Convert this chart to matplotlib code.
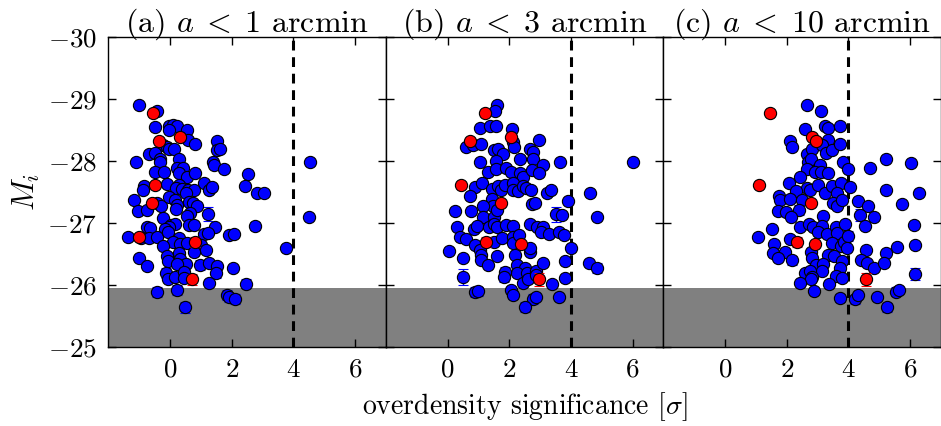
import matplotlib
matplotlib.use("Agg")
import matplotlib.pyplot as plt

plt.rcParams['font.family'] = 'serif'
plt.rcParams['font.serif'] = ['cmr10', 'DejaVu Serif']
plt.rcParams['mathtext.fontset'] = 'cm'
plt.rcParams['axes.formatter.use_mathtext'] = True

# ---------------- data ----------------
titles = [r'(a) $a\;<\;1$ arcmin', r'(b) $a\;<\;3$ arcmin', r'(c) $a\;<\;10$ arcmin']
x_ticks = [0, 2, 4, 6]
y_ticks = [-30, -29, -28, -27, -26, -25]
threshold = 4
mag_limit = -25.95

# panel (a)
a_blue_x = [-1.02, -0.43, -0.49, -0.02, 0.11, 0.22, -0.04, 0.54, 0.57, 0.82, 1.54, 1.52, 1.62,
            -0.22, -0.11, -0.02, 0.14, -0.67, -0.48, -0.31, -0.33, -1.10, 0.28, 1.40, 1.44, 1.76,
            2.53, -0.50, -0.19, 0.22, 0.43, 0.30, 0.54, 0.82, -0.84, -0.87, -0.11, 0.30, 0.19,
            0.39, 0.60, 1.11, 1.25, 1.36, 0.77, 2.43, 2.81, 3.05, -1.18, -0.42, -0.29, -0.02,
            0.17, 0.22, 0.19, 0.52, 0.63, 0.76, 0.87, -1.05, -0.73, -0.22, 0.66, 0.54, 1.24,
            0.03, 0.17, -0.02, -0.15, -0.73, -0.64, 0.63, 0.79, 1.45, 2.75, -1.36, -0.94, -0.67,
            -0.43, -0.08, 0.28, 0.09, 0.32, 0.54, 1.11, 1.22, 1.90, 2.06, 3.76, -0.22, 1.00,
            1.16, 0.79, -1.02, -0.73, -0.10, -0.07, 0.30, 0.32, 0.52, 0.22, 0.97, 1.25, 1.52,
            1.49, 2.05, -0.13, -0.08, 0.17, 0.44, 0.46, 1.25, 2.45, -0.42, 0.22, 1.85, 1.90,
            2.12, 0.50, 4.55, 4.50]
a_blue_y = [-28.90, -28.80, -28.55, -28.56, -28.58, -28.57, -28.50, -28.50, -28.34, -28.27,
            -28.33, -28.17, -28.20, -28.26, -28.22, -28.20, -28.20, -28.12, -28.13, -28.04,
            -27.99, -27.99, -28.04, -27.99, -27.94, -27.87, -27.79, -27.83, -27.83, -27.88,
            -27.88, -27.81, -27.74, -27.80, -27.60, -27.54, -27.63, -27.61, -27.56, -27.55,
            -27.53, -27.64, -27.53, -27.58, -27.53, -27.60, -27.49, -27.49, -27.37, -27.32,
            -27.27, -27.42, -27.37, -27.29, -27.22, -27.48, -27.34, -27.32, -27.27, -27.20,
            -27.21, -27.08, -27.16, -27.11, -27.15, -26.97, -26.99, -26.93, -26.90, -26.93,
            -26.92, -26.96, -26.97, -26.93, -26.95, -26.78, -26.76, -26.76, -26.78, -26.86,
            -26.76, -26.70, -26.66, -26.67, -26.83, -26.84, -26.80, -26.82, -26.59, -26.63,
            -26.65, -26.56, -26.54, -26.44, -26.30, -26.46, -26.39, -26.52, -26.42, -26.34,
            -26.34, -26.33, -26.35, -26.30, -26.20, -26.28, -26.19, -26.09, -26.13, -26.21,
            -26.12, -26.04, -26.02, -25.88, -25.92, -25.84, -25.80, -25.78, -25.64, -27.98,
            -27.10]
a_blue_err = [0.04, 0.04, 0.04, 0.04, 0.04, 0.04, 0.04, 0.04, 0.04, 0.04, 0.04, 0.04, 0.04,
              0.04, 0.04, 0.04, 0.04, 0.04, 0.04, 0.04, 0.04, 0.04, 0.04, 0.04, 0.04, 0.04,
              0.04, 0.04, 0.04, 0.04, 0.04, 0.04, 0.04, 0.04, 0.04, 0.04, 0.04, 0.04, 0.04,
              0.04, 0.04, 0.04, 0.04, 0.04, 0.04, 0.04, 0.04, 0.04, 0.04, 0.04, 0.04, 0.04,
              0.04, 0.04, 0.04, 0.04, 0.04, 0.04, 0.04, 0.04, 0.04, 0.04, 0.04, 0.04, 0.11,
              0.04, 0.04, 0.04, 0.04, 0.04, 0.04, 0.04, 0.04, 0.04, 0.07, 0.04, 0.04, 0.04,
              0.04, 0.04, 0.04, 0.04, 0.04, 0.04, 0.04, 0.04, 0.04, 0.04, 0.04, 0.04, 0.04,
              0.04, 0.08, 0.04, 0.04, 0.04, 0.04, 0.04, 0.04, 0.04, 0.04, 0.08, 0.04, 0.04,
              0.08, 0.04, 0.08, 0.04, 0.04, 0.07, 0.04, 0.04, 0.07, 0.08, 0.08, 0.08, 0.07,
              0.08, 0.09, 0.04, 0.04]
a_red_x = [-0.54, 0.33, -0.35, -0.48, -0.58, -1.00, 0.82, 0.70]
a_red_y = [-28.77, -28.39, -28.33, -27.61, -27.32, -26.78, -26.70, -26.09]
a_red_err = [0.04, 0.04, 0.04, 0.04, 0.04, 0.04, 0.08, 0.09]

# panel (b)
b_blue_x = [1.60, 1.54, 1.06, 1.38, 1.56, 2.08, 2.12, 2.15, 0.60, 0.81, 1.08, 2.98, 1.49, 1.64,
            1.79, 2.66, 2.78, 2.77, 1.04, 1.57, 2.36, 3.64, 3.08, 1.32, 1.57, 1.88, 2.06, 2.35,
            2.45, 2.73, 2.97, 0.89, 1.12, 0.72, 1.44, 1.64, 1.72, 1.87, 2.11, 2.12, 2.30, 2.45,
            2.54, 2.70, 3.24, 3.36, 4.61, 1.44, 1.47, 1.15, 3.90, 2.73, 2.84, 0.24, 0.76, 1.16,
            1.52, 1.59, 3.52, 3.70, 4.83, 0.31, 0.87, 0.94, 1.35, 1.52, 1.59, 1.91, 2.13, 2.67,
            2.89, 3.08, 3.03, 3.30, 3.62, 3.79, 0.41, 0.60, 1.49, 1.78, 2.11, 2.13, 2.32, 0.88,
            1.05, 1.09, 1.07, 0.06, 0.49, 1.59, 2.18, 2.67, 2.66, 3.99, 1.32, 2.24, 2.51, 2.25,
            2.59, 2.86, 3.08, 3.82, 4.59, 4.83, 0.51, 1.85, 1.84, 2.45, 2.62, 2.86, 3.38, 3.82,
            0.88, 1.00, 2.06, 2.12, 2.76, 2.86, 3.60, 2.52, 6.02]
b_blue_y = [-28.90, -28.80, -28.54, -28.56, -28.57, -28.51, -28.31, -28.23, -28.22, -28.26,
            -28.27, -28.34, -28.18, -28.20, -28.12, -28.20, -28.15, -28.04, -27.99, -28.00,
            -28.03, -27.98, -27.93, -27.82, -27.87, -27.89, -27.83, -27.81, -27.74, -27.85,
            -27.80, -27.58, -27.64, -27.44, -27.55, -27.59, -27.53, -27.61, -27.64, -27.53,
            -27.52, -27.59, -27.56, -27.53, -27.48, -27.53, -27.48, -27.38, -27.28, -27.27,
            -27.35, -27.30, -27.32, -27.20, -27.19, -27.09, -27.10, -27.21, -27.14, -27.13,
            -27.09, -26.94, -26.91, -26.95, -26.94, -26.99, -26.94, -26.96, -26.95, -26.99,
            -26.94, -26.94, -26.86, -26.82, -26.85, -26.80, -26.78, -26.75, -26.70, -26.76,
            -26.78, -26.67, -26.81, -26.65, -26.56, -26.48, -26.40, -26.55, -26.43, -26.47,
            -26.48, -26.53, -26.59, -26.59, -26.33, -26.33, -26.28, -26.19, -26.19, -26.22,
            -26.35, -26.39, -26.36, -26.28, -26.13, -26.21, -26.13, -26.04, -26.09, -26.16,
            -26.02, -26.11, -25.88, -25.90, -25.92, -25.84, -25.77, -25.80, -25.81, -25.64,
            -27.98]
b_blue_err = [0.04, 0.04, 0.04, 0.04, 0.04, 0.04, 0.04, 0.04, 0.04, 0.04, 0.04, 0.04, 0.04,
              0.04, 0.04, 0.04, 0.04, 0.04, 0.04, 0.04, 0.04, 0.04, 0.04, 0.04, 0.04, 0.04,
              0.04, 0.04, 0.04, 0.04, 0.04, 0.04, 0.04, 0.04, 0.04, 0.04, 0.04, 0.04, 0.04,
              0.04, 0.04, 0.04, 0.04, 0.04, 0.04, 0.04, 0.04, 0.04, 0.04, 0.04, 0.04, 0.04,
              0.04, 0.04, 0.04, 0.04, 0.04, 0.04, 0.12, 0.04, 0.04, 0.04, 0.04, 0.04, 0.04,
              0.04, 0.04, 0.04, 0.04, 0.04, 0.04, 0.04, 0.04, 0.04, 0.04, 0.04, 0.04, 0.04,
              0.04, 0.04, 0.04, 0.04, 0.04, 0.04, 0.04, 0.04, 0.04, 0.04, 0.04, 0.04, 0.04,
              0.04, 0.04, 0.04, 0.04, 0.04, 0.04, 0.04, 0.04, 0.04, 0.04, 0.04, 0.04, 0.08,
              0.13, 0.08, 0.08, 0.04, 0.04, 0.04, 0.04, 0.04, 0.08, 0.07, 0.04, 0.07, 0.08,
              0.04, 0.04, 0.08, 0.04]
b_red_x = [1.22, 2.06, 0.74, 0.43, 1.74, 1.24, 2.39, 2.96]
b_red_y = [-28.77, -28.39, -28.33, -27.61, -27.32, -26.69, -26.66, -26.09]
b_red_err = [0.04, 0.04, 0.04, 0.04, 0.04, 0.08, 0.04, 0.10]

# panel (c)
c_blue_x = [2.66, 3.10, 2.60, 3.24, 3.35, 3.71, 2.12, 2.16, 3.34, 2.65, 2.83, 3.13, 3.26, 3.46,
            3.73, 2.69, 2.80, 3.07, 3.83, 2.67, 2.91, 3.10, 3.33, 3.99, 5.22, 4.71, 6.04, 2.43,
            2.08, 2.65, 2.75, 3.02, 3.24, 3.46, 3.76, 3.63, 4.05, 2.29, 5.22, 6.30, 1.76, 1.79,
            2.11, 2.48, 3.50, 3.62, 3.80, 4.31, 4.63, 5.74, 1.71, 1.98, 2.39, 2.14, 3.19, 4.38,
            4.83, 4.52, 6.11, 1.51, 2.44, 2.73, 2.86, 3.13, 3.02, 3.29, 3.61, 3.63, 3.89, 1.06,
            2.11, 1.57, 3.45, 3.75, 3.87, 4.00, 3.96, 5.57, 6.16, 1.94, 1.55, 1.71, 2.17, 2.78,
            2.81, 3.33, 3.53, 4.58, 5.22, 3.78, 4.39, 4.59, 4.83, 5.14, 2.94, 3.17, 3.14, 3.74,
            2.60, 2.74, 2.83, 2.79, 3.60, 3.80, 6.15, 2.44, 3.38, 2.87, 3.72, 4.21, 4.30, 4.92,
            5.53, 5.64, 5.25]
c_blue_y = [-28.90, -28.80, -28.51, -28.56, -28.53, -28.56, -28.33, -28.22, -28.34, -28.12,
            -28.19, -28.26, -28.13, -28.18, -28.27, -27.99, -28.03, -27.94, -27.99, -27.87,
            -27.83, -27.83, -27.81, -27.87, -28.04, -27.89, -27.96, -27.74, -27.64, -27.57,
            -27.54, -27.61, -27.49, -27.60, -27.64, -27.48, -27.58, -27.52, -27.53, -27.49,
            -27.44, -27.37, -27.38, -27.37, -27.32, -27.27, -27.37, -27.36, -27.27, -27.30,
            -27.20, -27.17, -27.21, -27.09, -27.11, -27.13, -27.09, -26.95, -26.97, -26.90,
            -26.94, -26.98, -26.93, -26.95, -26.86, -26.83, -26.94, -26.84, -26.99, -26.77,
            -26.75, -26.66, -26.67, -26.63, -26.70, -26.79, -26.59, -26.62, -26.64, -26.54,
            -26.51, -26.43, -26.40, -26.54, -26.43, -26.48, -26.46, -26.56, -26.52, -26.38,
            -26.40, -26.35, -26.28, -26.35, -26.33, -26.34, -26.22, -26.27, -26.20, -26.22,
            -26.13, -26.09, -26.15, -26.12, -26.18, -26.03, -26.02, -25.90, -25.79, -25.77,
            -25.84, -25.80, -25.89, -25.92, -25.64]
c_blue_err = [0.04, 0.04, 0.04, 0.04, 0.04, 0.04, 0.04, 0.04, 0.04, 0.04, 0.04, 0.04, 0.04,
              0.04, 0.04, 0.04, 0.04, 0.04, 0.04, 0.04, 0.04, 0.04, 0.04, 0.04, 0.04, 0.04,
              0.04, 0.04, 0.04, 0.04, 0.04, 0.04, 0.04, 0.04, 0.04, 0.04, 0.04, 0.04, 0.04,
              0.04, 0.04, 0.04, 0.04, 0.04, 0.04, 0.04, 0.04, 0.04, 0.04, 0.04, 0.04, 0.04,
              0.08, 0.04, 0.04, 0.10, 0.04, 0.04, 0.04, 0.04, 0.04, 0.04, 0.04, 0.04, 0.04,
              0.04, 0.04, 0.04, 0.04, 0.04, 0.04, 0.04, 0.04, 0.04, 0.04, 0.08, 0.04, 0.04,
              0.04, 0.04, 0.04, 0.04, 0.07, 0.04, 0.04, 0.04, 0.04, 0.04, 0.04, 0.04, 0.04,
              0.04, 0.04, 0.04, 0.04, 0.04, 0.04, 0.04, 0.04, 0.04, 0.04, 0.04, 0.04, 0.04,
              0.10, 0.04, 0.04, 0.04, 0.07, 0.07, 0.04, 0.04, 0.07, 0.04, 0.07]
c_red_x = [1.46, 2.82, 2.96, 1.10, 2.79, 2.34, 2.91, 4.56]
c_red_y = [-28.77, -28.39, -28.33, -27.61, -27.32, -26.69, -26.66, -26.09]
c_red_err = [0.04, 0.04, 0.04, 0.04, 0.04, 0.08, 0.04, 0.10]

panels = [
    (a_blue_x, a_blue_y, a_blue_err, a_red_x, a_red_y, a_red_err),
    (b_blue_x, b_blue_y, b_blue_err, b_red_x, b_red_y, b_red_err),
    (c_blue_x, c_blue_y, c_blue_err, c_red_x, c_red_y, c_red_err),
]

# ---------------- figure ----------------
W, H = 941, 426
fig = plt.figure(figsize=(W / 100, H / 100), dpi=100)
left_px, right_px, top_px, bot_px = 108.3, 941.0, 37.0, 347.0
pw = (right_px - left_px) / 3

for i, (bx, by, be, rx, ry, re) in enumerate(panels):
    ax = fig.add_axes([(left_px + i * pw) / W, (H - bot_px) / H, pw / W, (bot_px - top_px) / H])
    ax.axhspan(mag_limit, -25, color='#808080', lw=0, zorder=0)
    ax.axvline(threshold, color='black', lw=2.2, dashes=(3.2, 2.2), zorder=1)
    ax.errorbar(bx, by, yerr=be, fmt='o', ms=8.8, mfc='blue', mec='black', mew=0.8,
                ecolor='blue', elinewidth=1.0, capsize=3.6, capthick=1.0, zorder=2)
    ax.errorbar(rx, ry, yerr=re, fmt='o', ms=8.8, mfc='red', mec='black', mew=0.8,
                ecolor='red', elinewidth=1.0, capsize=3.6, capthick=1.0, zorder=3)
    ax.set_xlim(-2, 7)
    ax.set_ylim(-25, -30)
    ax.set_xticks(x_ticks)
    ax.set_yticks(y_ticks)
    ax.tick_params(direction='in', top=True, right=True, length=6, width=1,
                   labelsize=19.5, pad=8)
    if i > 0:
        ax.tick_params(labelleft=False)
    for s in ax.spines.values():
        s.set_linewidth(1.0)
    ax.set_title(titles[i], fontsize=23, pad=4)
    if i == 0:
        ax.set_ylabel(r'$M_i$', fontsize=22, labelpad=4)
    if i == 1:
        ax.set_xlabel(r'overdensity significance $[\sigma]$', fontsize=20, labelpad=6)

fig.savefig('out.png', dpi=100)
